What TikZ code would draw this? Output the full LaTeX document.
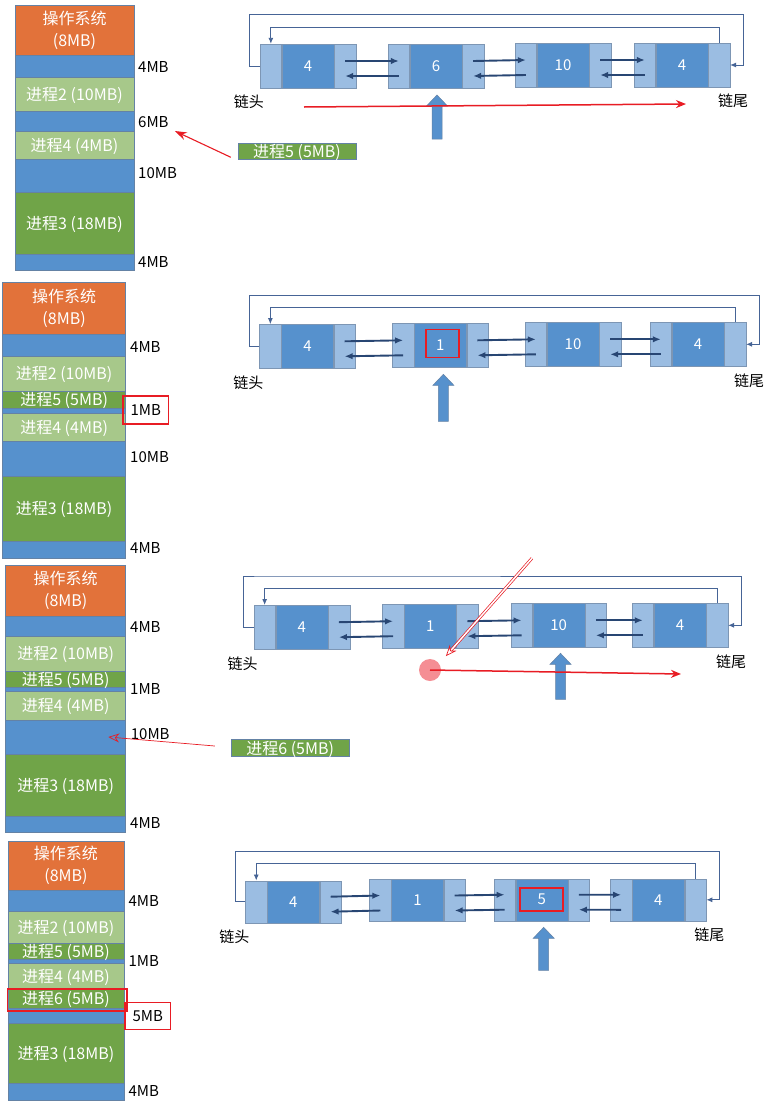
\documentclass[tikz,border=0pt]{standalone}
\usepackage{fontspec}
\setmainfont{Noto Sans CJK SC}
\usetikzlibrary{arrows.meta}
\usetikzlibrary{positioning}
\definecolor{OsOrange}{RGB}{226,114,58}
\definecolor{HoleBlue}{RGB}{86,145,205}
\definecolor{LightGreen}{RGB}{167,200,138}
\definecolor{DarkGreen}{RGB}{112,164,72}
\definecolor{CellLight}{RGB}{155,189,226}
\definecolor{CellDark}{RGB}{86,145,205}
\definecolor{CellLine}{RGB}{125,150,180}
\definecolor{BlockEdge}{RGB}{100,130,165}
\definecolor{LinkNavy}{RGB}{40,70,115}
\definecolor{LoopBlue}{RGB}{70,100,150}
\definecolor{MarkRed}{RGB}{232,28,36}
\definecolor{DotPink}{RGB}{245,142,148}
\tikzstyle{MemBlock}=[rectangle, draw=BlockEdge, line width=0.5pt, inner sep=0pt]
\tikzstyle{BlockText}=[inner sep=0pt, text=white, font=\fontsize{16}{19}\selectfont, text height=12pt, text depth=0pt]
\tikzstyle{OsBlock}=[rectangle, draw=BlockEdge, fill=OsOrange, line width=0.5pt, inner sep=0pt, text=white, align=center, font=\fontsize{16}{22}\selectfont]
\tikzstyle{ProcBox}=[MemBlock, BlockText, fill=DarkGreen, minimum width=118pt, minimum height=17pt]
\tikzstyle{SizeLabel}=[anchor=west, inner sep=0pt, font=\fontsize{15}{18}\selectfont]
\tikzstyle{MarkBox}=[draw=MarkRed, line width=1.6pt, inner xsep=7.5pt, minimum height=27pt]
\tikzstyle{DataCell}=[rectangle, draw=CellLine, fill=CellDark, minimum width=52pt, minimum height=44pt, inner sep=0pt, text=white, font=\fontsize{15}{18}\selectfont]
\tikzstyle{PtrCell}=[rectangle, draw=CellLine, fill=CellLight, minimum width=21.5pt, minimum height=44pt, inner sep=0pt]
\tikzstyle{NextEdge}=[->, LinkNavy, line width=1.9pt]
\tikzstyle{LoopEdge}=[-{Latex[length=6pt,width=5pt]}, LoopBlue, line width=0.9pt]
\tikzstyle{EndLabel}=[inner sep=0pt, font=\fontsize{15}{18}\selectfont]
\tikzstyle{PtrFill}=[fill=CellDark, draw=BlockEdge, line width=0.5pt]
\tikzstyle{ScanArrow}=[-{Stealth[length=10pt,width=8pt]}, MarkRed, line width=1.5pt]
\tikzstyle{HintArrow}=[-{Stealth[length=12pt,width=8pt]}, MarkRed, line width=1.1pt]
\tikzstyle{HollowArrow}=[-{Stealth[open,length=11pt,width=9pt]}, MarkRed, line width=0.7pt]
\tikzset{>={Latex[length=8pt,width=6.5pt]}}

\def\memA{a-h1/55.7/77/HoleBlue/{}, a-p2/77/111/LightGreen/{进程2 (10MB)}, a-h2/111/131.7/HoleBlue/{}, a-p4/131.7/159/LightGreen/{进程4 (4MB)}, a-h3/159/192/HoleBlue/{}, a-p3/192/254/DarkGreen/{进程3 (18MB)}, a-h4/254/270.7/HoleBlue/{}}
\def\memB{b-h1/334/356.7/HoleBlue/{}, b-p2/356.7/391/LightGreen/{进程2 (10MB)}, b-p5/391/408.7/DarkGreen/{进程5 (5MB)}, b-h2/408.7/413.3/HoleBlue/{}, b-p4/413.3/441.7/LightGreen/{进程4 (4MB)}, b-h3/441.7/476.7/HoleBlue/{}, b-p3/476.7/541/DarkGreen/{进程3 (18MB)}, b-h4/541/558.3/HoleBlue/{}}
\def\memC{c-h1/616/636.7/HoleBlue/{}, c-p2/636.7/671/LightGreen/{进程2 (10MB)}, c-p5/671/687.3/DarkGreen/{进程5 (5MB)}, c-h2/687.3/691.7/HoleBlue/{}, c-p4/691.7/720/LightGreen/{进程4 (4MB)}, c-h3/720/754/HoleBlue/{}, c-p3/754/816.7/DarkGreen/{进程3 (18MB)}, c-h4/816.7/832.7/HoleBlue/{}}
\def\memD{d-h1/890/911/HoleBlue/{}, d-p2/911/943.3/LightGreen/{进程2 (10MB)}, d-p5/943.3/959/DarkGreen/{进程5 (5MB)}, d-h2/959/963.3/HoleBlue/{}, d-p4/963.3/989/LightGreen/{进程4 (4MB)}, d-p6/989/1008.5/DarkGreen/{进程6 (5MB)}, d-h3/1008.5/1023.3/HoleBlue/{}, d-p3/1023.3/1083.3/DarkGreen/{进程3 (18MB)}, d-h4/1083.3/1100/HoleBlue/{}}

\begin{document}
\begin{tikzpicture}[x=1pt,y=-1pt]
\fill[white] (0,0) rectangle (770,1106);
\useasboundingbox (0,0) rectangle (770,1106);

% memory columns: blocks first, texts on top
\node[OsBlock, minimum width=119pt, minimum height=50pt] (a-os) at (74.5,30.7) {操作系统\\(8MB)};
\node[OsBlock, minimum width=123.2pt, minimum height=51.7pt] (b-os) at (64.1,308.2) {操作系统\\(8MB)};
\node[OsBlock, minimum width=120pt, minimum height=51pt] (c-os) at (65.7,590.5) {操作系统\\(8MB)};
\node[OsBlock, minimum width=116pt, minimum height=49pt] (d-os) at (66,865.5) {操作系统\\(8MB)};
\foreach \n/\t/\b/\c/\txt in \memA
  \node[MemBlock, fill=\c, minimum width=119pt, minimum height={(\b-\t)*1pt}] (\n) at (74.5,{(\t+\b)/2}) {};
\foreach \n/\t/\b/\c/\txt in \memB
  \node[MemBlock, fill=\c, minimum width=123.2pt, minimum height={(\b-\t)*1pt}] (\n) at (64.1,{(\t+\b)/2}) {};
\foreach \n/\t/\b/\c/\txt in \memC
  \node[MemBlock, fill=\c, minimum width=120pt, minimum height={(\b-\t)*1pt}] (\n) at (65.7,{(\t+\b)/2}) {};
\foreach \n/\t/\b/\c/\txt in \memD
  \node[MemBlock, fill=\c, minimum width=116pt, minimum height={(\b-\t)*1pt}] (\n) at (66,{(\t+\b)/2}) {};
\foreach \n/\t/\b/\c/\txt in \memA
  \node[BlockText] (\n-t) at (\n.center) {\txt};
\foreach \n/\t/\b/\c/\txt in \memB
  \node[BlockText] (\n-t) at (\n.center) {\txt};
\foreach \n/\t/\b/\c/\txt in \memC
  \node[BlockText] (\n-t) at (\n.center) {\txt};
\foreach \n/\t/\b/\c/\txt in \memD
  \node[BlockText] (\n-t) at (\n.center) {\txt};
\node[MarkBox, minimum width=119.4pt, minimum height=22pt] (d-p6-mark) at (67,1000) {};

% hole sizes
\foreach \n/\x/\y/\txt in {a-s1/138/67/4MB, a-s6/138/122/6MB, a-s3/138/173/10MB, a-s4/138/262/4MB, b-s1/130/346.7/4MB, b-s3/130/456.7/10MB, b-s4/130/548.3/4MB, c-s1/130/626.7/4MB, c-s2/130/689/1MB, c-s3/130.7/734/10MB, c-s4/130/823.3/4MB, d-s1/128.3/901/4MB, d-s2/128.3/961/1MB, d-s4/128.3/1091/4MB}
  \node[SizeLabel] (\n) at (\x,\y) {\txt};
\node[SizeLabel, MarkBox, minimum height=28pt] (b-s2) at (122.3,410) {1MB};
\node[SizeLabel, MarkBox] (d-s3) at (124.3,1016) {5MB};

% waiting processes
\node[ProcBox, minimum height=16pt] (a-p5new) at (297,151) {进程5 (5MB)};
\node[ProcBox, minimum width=118.3pt] (c-p6new) at (290.2,748) {进程6 (5MB)};

% free lists
\foreach \n/\x/\y/\t in {a1/308/66/4, a2/436/66/6, a3/563/65/10, a4/682/65/4, b1/307.5/346.3/4, b2/440.3/345.3/1, b3/573/344.3/10, b4/698/344.3/4, c1/301.8/627.2/4, c2/430.2/626.2/1, c3/558.7/625.3/10, c4/680/625.3/4}{
  \node[DataCell] (\n) at (\x,\y) {\t};
  \node[PtrCell, left=0pt of \n] (\n-l) {};
  \node[PtrCell, right=0pt of \n] (\n-r) {};
}
\begin{scope}[DataCell/.append style={minimum height=42pt}, PtrCell/.append style={minimum height=42pt}]
\foreach \n/\x/\y/\t in {d1/293.4/901.7/4, d2/417.5/900.5/1, d3/541.7/899.7/5, d4/658.3/899.8/4}{
  \node[DataCell] (\n) at (\x,\y) {\t};
  \node[PtrCell, left=0pt of \n] (\n-l) {};
  \node[PtrCell, right=0pt of \n] (\n-r) {};
}
\end{scope}
\node[MarkBox, minimum width=33pt, minimum height=28pt] (b2-mark) at ([shift={(2pt,2pt)}]b2.center) {};
\node[MarkBox, minimum width=43pt, minimum height=23pt] (d3-mark) at (d3.center) {};

\foreach \p in {a,b,c,d}{
  \foreach \i/\j in {1/2,2/3,3/4}{
    \draw[NextEdge] ([yshift=5pt]\p\i-r.center) -- ([yshift=5pt]\p\j-l.center);
    \draw[NextEdge] ([yshift=-10pt]\p\j-l.center) -- ([yshift=-10pt]\p\i-r.center);
  }
  \draw[LoopEdge] (\p4-r.north) -- ([yshift=15pt]\p4-r.north) -| (\p1-l.north);
  \draw[LoopEdge] (\p1-l.west) -- ++(-10,0) |- ([yshift=29pt]\p1-l.north) -| ([xshift=13pt]\p4-r.east) -- (\p4-r.east);
  \node[EndLabel] (\p-head) at ([shift={(-11pt,-14pt)}]\p1-l.south west) {链头};
  \node[EndLabel] (\p-tail) at ([shift={(3pt,-14pt)}]\p4-r.south east) {链尾};
}

% search pointers
\foreach \n/\x/\y/\l in {a-ptr/437/95/44, b-ptr/443.4/374.3/47, c-ptr/560.5/653.3/46, d-ptr/543.7/927.3/43}{
  \coordinate (\n) at (\x,\y);
  \filldraw[PtrFill] (\n) -- ++(10.5,11) -- ++(-5.5,0) -- ++(0,\l-11) -- ++(-10,0) -- ++(0,11-\l) -- ++(-5.5,0) -- cycle;
}

% red marks
\coordinate (a-scan-s) at (304,107);
\coordinate (a-scan-e) at (686,104);
\draw[ScanArrow] (a-scan-s) -- (a-scan-e);
\draw[HintArrow] ([shift={(-7pt,2pt)}]a-p5new.south west) -- ([shift={(6pt,-9pt)}]a-s6.east);

\node[circle, fill=DotPink, minimum size=22pt, inner sep=0pt] (c-dot) at (430,670) {};
\coordinate (c-scan-e) at (681,674);
\draw[ScanArrow] (c-dot.center) -- (c-scan-e);
\coordinate (c-hint-s) at (531.9,558.3);
\draw[HollowArrow, double=white, double distance=1.5pt] (c-hint-s) -- ([shift={(8pt,6pt)}]c-dot.north east);
\draw[HollowArrow] ([shift={(-16pt,2pt)}]c-p6new.west) -- ([xshift=42.6pt]c-h3.center);
\end{tikzpicture}
\end{document}
